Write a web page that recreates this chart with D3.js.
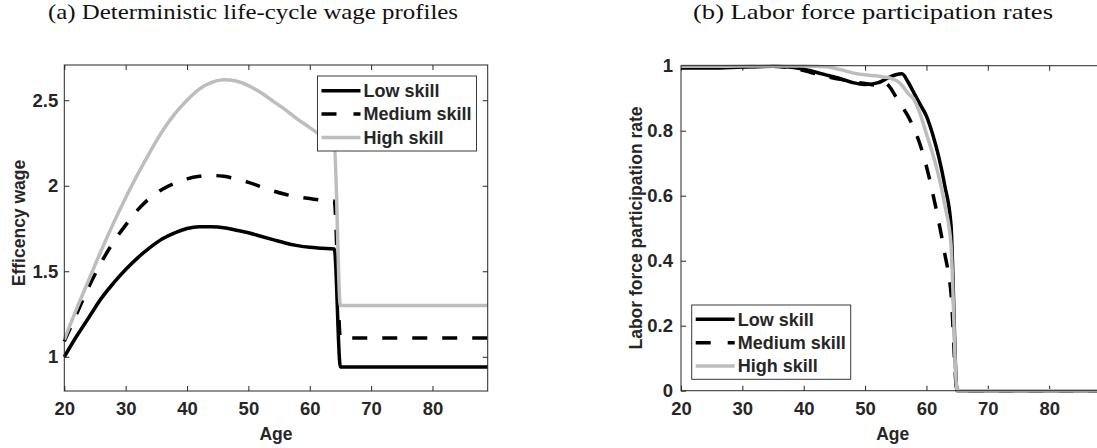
<!DOCTYPE html>
<html lang="en">
<head>
  <meta charset="UTF-8">
  <title>Wage profiles and participation</title>
  <style>
    body { margin: 0; background: #fff; }
    svg { display: block; }
    .tick text { font-family: "Liberation Sans", Arial, sans-serif; font-weight: bold; font-size: 18.5px; fill: #262626; }
    .tick line { stroke: #262626; }
    .lab { font-family: "Liberation Sans", Arial, sans-serif; font-weight: bold; font-size: 17.5px; fill: #262626; }
    .ttl { font-family: "Liberation Serif", "DejaVu Serif", serif; font-size: 21px; fill: #111; }
  </style>
</head>
<body>
  <svg width="1097" height="448"></svg>

  <script src="https://d3js.org/d3.v7.min.js"></script>
  <script>
    // --- data ---
    const skills = ["Low skill", "Medium skill", "High skill"];
    const xTicks = [20, 30, 40, 50, 60, 70, 80];

    const wageAges = [20, 22, 24, 26, 28, 30, 32, 34, 36, 38, 40, 42, 44, 46, 48, 50, 52, 54, 56, 58, 60, 62, 64, 65, 89];
    const wageLow  = [1.00, 1.12, 1.23, 1.34, 1.43, 1.51, 1.58, 1.64, 1.69, 1.725, 1.75, 1.76, 1.76, 1.755, 1.74, 1.725, 1.705, 1.685, 1.665, 1.65, 1.64, 1.635, 1.63, 0.94, 0.94];
    const wageMed  = [1.09, 1.25, 1.41, 1.55, 1.67, 1.77, 1.86, 1.93, 1.98, 2.015, 2.04, 2.055, 2.06, 2.055, 2.04, 2.02, 1.995, 1.97, 1.95, 1.935, 1.925, 1.915, 1.91, 1.11, 1.11];
    const wageHigh = [1.10, 1.28, 1.45, 1.62, 1.78, 1.93, 2.07, 2.20, 2.32, 2.42, 2.50, 2.565, 2.605, 2.62, 2.612, 2.585, 2.545, 2.495, 2.445, 2.39, 2.34, 2.29, 2.24, 1.30, 1.30];
    const wageTicks = [1, 1.5, 2, 2.5];

    const lfpAges = [20, 25, 30, 35, 38, 40, 42, 44, 46, 48, 50, 52, 53, 54, 55, 56, 57, 58, 59, 60, 61, 62, 63, 64, 65, 89];
    const lfpLow  = [0.993, 0.993, 0.996, 0.998, 0.995, 0.989, 0.980, 0.970, 0.960, 0.948, 0.942, 0.947, 0.955, 0.965, 0.972, 0.975, 0.950, 0.915, 0.880, 0.845, 0.790, 0.720, 0.630, 0.510, 0.0, 0.0];
    const lfpMed  = [0.995, 0.996, 0.997, 0.998, 0.993, 0.985, 0.975, 0.965, 0.958, 0.950, 0.945, 0.940, 0.950, 0.935, 0.905, 0.875, 0.845, 0.805, 0.755, 0.690, 0.610, 0.520, 0.420, 0.300, 0.0, 0.0];
    const lfpHigh = [0.998, 0.998, 0.999, 0.999, 0.999, 0.999, 0.998, 0.996, 0.988, 0.978, 0.972, 0.968, 0.965, 0.962, 0.955, 0.940, 0.915, 0.895, 0.850, 0.790, 0.730, 0.660, 0.570, 0.450, 0.0, 0.0];
    const lfpTicks = [0, 0.2, 0.4, 0.6, 0.8, 1];

    const colors = ["#000000", "#000000", "#bdbdbd"];
    const dashes = [null, "15 15", null];

    const svg = d3.select("svg");
    const ink = "#262626";

    function panel(opt) {
      const x = d3.scaleLinear().domain([20, 89]).range([opt.left, opt.right]);
      const y = d3.scaleLinear().domain(opt.yDomain).range([opt.bottom, opt.top]);
      const g = svg.append("g");

      // axes: ticks point inward, mirrored on top/right
      g.append("g").attr("transform", `translate(0,${opt.bottom})`)
        .call(d3.axisBottom(x).tickValues(xTicks).tickSizeInner(-5).tickSizeOuter(0).tickPadding(11))
        .call(a => a.select(".domain").remove());
      g.append("g").attr("transform", `translate(0,${opt.top})`)
        .call(d3.axisTop(x).tickValues(xTicks).tickSizeInner(-5).tickSizeOuter(0).tickFormat(""))
        .call(a => a.select(".domain").remove());
      g.append("g").attr("transform", `translate(${opt.left},0)`)
        .call(d3.axisLeft(y).tickValues(opt.yTicks).tickSizeInner(-5).tickSizeOuter(0).tickPadding(opt.yPad).tickFormat(d3.format("~g")))
        .call(a => a.select(".domain").remove());
      g.append("g").attr("transform", `translate(${opt.right},0)`)
        .call(d3.axisRight(y).tickValues(opt.yTicks).tickSizeInner(-5).tickSizeOuter(0).tickFormat(""))
        .call(a => a.select(".domain").remove());

      const line = d3.line().x((d, i) => x(opt.ages[i])).y(d => y(d)).curve(d3.curveMonotoneX);
      opt.series.forEach((s, i) => {
        g.append("path")
          .attr("d", line(s))
          .attr("fill", "none")
          .attr("stroke", colors[i])
          .attr("stroke-width", 3.5)
          .attr("stroke-dasharray", dashes[i]);
      });

      g.append("rect")
        .attr("x", opt.left).attr("y", opt.top)
        .attr("width", opt.right - opt.left).attr("height", opt.bottom - opt.top)
        .attr("fill", "none").attr("stroke", ink).attr("stroke-width", 1);

      // legend
      const L = opt.legend;
      const lg = g.append("g");
      lg.append("rect").attr("x", L.x).attr("y", L.y).attr("width", L.w).attr("height", L.h)
        .attr("fill", "#fff").attr("stroke", "#3a3a3a").attr("stroke-width", 1);
      skills.forEach((name, i) => {
        const ry = L.rows[i];
        lg.append("line")
          .attr("x1", L.x + 4).attr("x2", L.x + 43).attr("y1", ry).attr("y2", ry)
          .attr("stroke", colors[i]).attr("stroke-width", 3.5)
          .attr("stroke-dasharray", dashes[i] ? "15 17" : null);
        lg.append("text").attr("class", "lab")
          .attr("x", L.x + 46).attr("y", ry).attr("dy", "0.35em")
          .style("font-size", "18px")
          .text(name);
      });

      // labels
      g.append("text").attr("class", "lab").attr("text-anchor", "middle")
        .attr("x", (opt.left + opt.right) / 2).attr("y", 440).text("Age");
      g.append("text").attr("class", "lab").attr("text-anchor", "middle")
        .attr("transform", `translate(${opt.yLabX},${opt.yLabY}) rotate(-90)`)
        .attr("dy", "0.35em").text(opt.yLabel);
      g.append("text").attr("class", "ttl").attr("text-anchor", "middle")
        .attr("x", opt.titleX).attr("y", 19)
        .attr("textLength", opt.titleW).attr("lengthAdjust", "spacingAndGlyphs")
        .text(opt.title);
    }

    panel({
      left: 64.3, right: 487.7, top: 65, bottom: 391,
      yDomain: [0.8, 2.706], yTicks: wageTicks, yPad: 6,
      ages: wageAges, series: [wageLow, wageMed, wageHigh],
      legend: { x: 317.5, y: 76, w: 159, h: 75, rows: [90.7, 114, 137.5] },
      yLabel: "Efficency wage", yLabX: 19, yLabY: 223,
      title: "(a) Deterministic life-cycle wage profiles", titleX: 253, titleW: 410
    });

    panel({
      left: 681, right: 1104.4, top: 65.7, bottom: 390.7,
      yDomain: [0, 1], yTicks: lfpTicks, yPad: 8,
      ages: lfpAges, series: [lfpLow, lfpMed, lfpHigh],
      legend: { x: 691.7, y: 305, w: 159, h: 74.3, rows: [319.3, 342.7, 366] },
      yLabel: "Labor force participation rate", yLabX: 636, yLabY: 228,
      title: "(b) Labor force participation rates", titleX: 873, titleW: 360
    });
  </script>
</body>
</html>
